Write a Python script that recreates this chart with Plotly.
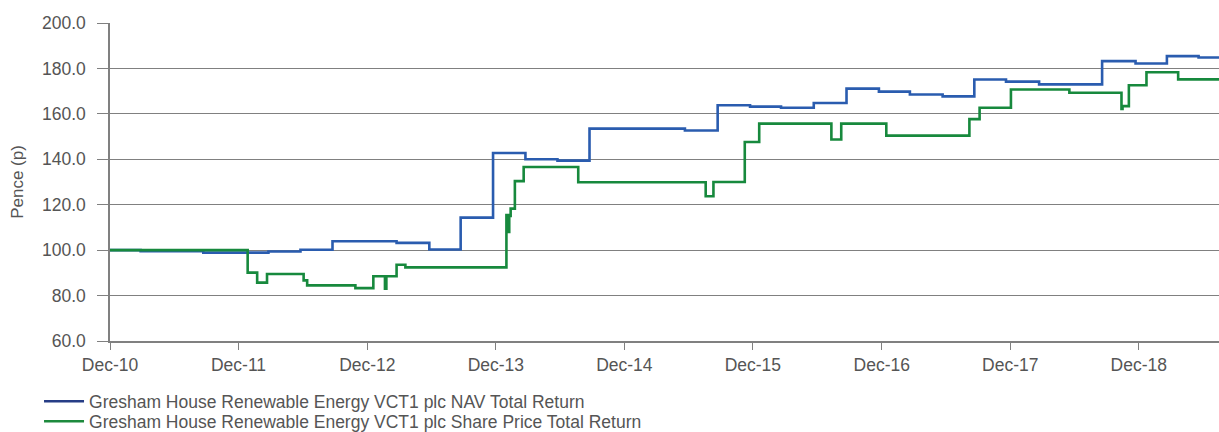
import plotly.graph_objects as go

# NAV Total Return (step changes)
nav_dates = ["2010-12-31", "2011-03-28", "2011-09-22", "2012-03-25", "2012-06-24",
             "2012-09-23", "2013-03-24", "2013-06-25", "2013-09-22", "2013-12-23",
             "2014-03-25", "2014-06-24", "2014-09-23", "2015-06-21", "2015-09-22",
             "2015-12-23", "2016-03-20", "2016-06-21", "2016-09-22", "2016-12-23",
             "2017-03-21", "2017-06-22", "2017-09-20", "2017-12-19", "2018-03-23",
             "2018-09-18", "2018-12-22", "2019-03-21", "2019-06-19", "2019-08-16"]
nav_values = [100.0, 99.5, 98.9, 99.4, 100.2,
              103.9, 103.2, 100.3, 114.3, 142.8,
              140.0, 139.4, 153.5, 152.7, 163.8,
              163.2, 162.7, 164.8, 171.1, 169.8,
              168.5, 167.7, 175.1, 174.2, 173.0,
              183.2, 182.2, 185.4, 184.8, 184.8]

# Share Price Total Return (step changes)
sp_dates = ["2010-12-31", "2012-01-26", "2012-02-22", "2012-03-21", "2012-07-03",
            "2012-07-13", "2012-11-27", "2013-01-17", "2013-02-19", "2013-02-23",
            "2013-03-24", "2013-04-18", "2014-01-30", "2014-02-01", "2014-02-03",
            "2014-02-05", "2014-02-07", "2014-02-11", "2014-02-23", "2014-03-20",
            "2014-08-22", "2015-08-19", "2015-09-10", "2015-12-08", "2016-01-18",
            "2016-08-10", "2016-09-07", "2017-01-13", "2017-09-06", "2017-10-05",
            "2018-01-02", "2018-06-17", "2018-11-12", "2018-11-15", "2018-12-03",
            "2019-01-22", "2019-04-22", "2019-08-16"]
sp_values = [100.0, 90.1, 85.7, 89.5, 86.7,
             84.5, 83.3, 88.5, 83.0, 88.5,
             93.6, 92.4, 115.5, 108.0, 115.5,
             108.0, 115.0, 118.3, 130.4, 136.6,
             129.9, 123.7, 130.0, 147.6, 155.7,
             148.7, 155.7, 150.4, 157.7, 162.7,
             170.7, 169.3, 162.2, 163.4, 172.6,
             178.3, 175.2, 175.2]

tick_dates = ["2010-12-31", "2011-12-31", "2012-12-31", "2013-12-31", "2014-12-31",
              "2015-12-31", "2016-12-31", "2017-12-31", "2018-12-31"]
tick_labels = ["Dec-10", "Dec-11", "Dec-12", "Dec-13", "Dec-14",
               "Dec-15", "Dec-16", "Dec-17", "Dec-18"]

nav_name = "Gresham House Renewable Energy VCT1 plc NAV Total Return"
sp_name = "Gresham House Renewable Energy VCT1 plc Share Price Total Return"

fig = go.Figure()
fig.add_trace(go.Scatter(x=nav_dates, y=nav_values, mode="lines", line_shape="hv",
                         line=dict(color="#2a5caf", width=2.6), showlegend=False))
fig.add_trace(go.Scatter(x=sp_dates, y=sp_values, mode="lines", line_shape="hv",
                         line=dict(color="#17893d", width=2.6), showlegend=False))
# legend entries (one legend box per row for exact placement)
fig.add_trace(go.Scatter(x=[None], y=[None], mode="lines", name=nav_name, legend="legend",
                         line=dict(color="#263d86", width=2.5)))
fig.add_trace(go.Scatter(x=[None], y=[None], mode="lines", name=sp_name, legend="legend2",
                         line=dict(color="#1d8a3d", width=2.5)))

gray = "#808080"
txt = "#555555"
leg_common = dict(x=-0.064, xanchor="left", yanchor="top", orientation="v",
                  itemwidth=40, font=dict(size=17.5, color=txt), bgcolor="rgba(0,0,0,0)")
fig.update_layout(
    width=1219, height=432,
    margin=dict(l=110, r=0, t=23, b=91, autoexpand=False),
    plot_bgcolor="white", paper_bgcolor="white",
    font=dict(family="Liberation Sans, Arial, sans-serif", size=17, color=txt),
    xaxis=dict(type="date", range=["2010-12-31", "2019-08-16"], automargin=False,
               tickvals=tick_dates, ticktext=tick_labels,
               showgrid=False, showline=True, linecolor=gray, linewidth=1.5,
               ticks="outside", ticklen=7, tickcolor=gray, zeroline=False,
               tickfont=dict(size=17.5, color=txt)),
    yaxis=dict(range=[60, 200], tickvals=[60, 80, 100, 120, 140, 160, 180, 200],
               automargin=False,
               tickformat=".1f", showgrid=True, gridcolor=gray, gridwidth=1.2,
               showline=True, linecolor=gray, linewidth=1.5,
               ticks="outside", ticklen=11, tickcolor=gray, zeroline=False,
               ticklabelstandoff=8,
               title=dict(text="Pence (p)", font=dict(size=17, color=txt), standoff=14),
               tickfont=dict(size=17.5, color=txt)),
    legend=dict(y=-0.1336, **leg_common),
    legend2=dict(y=-0.1963, **leg_common),
)

fig.write_html("out.html", config={"displayModeBar": False},
               post_script="document.body.style.margin='0';document.body.style.padding='0';")
